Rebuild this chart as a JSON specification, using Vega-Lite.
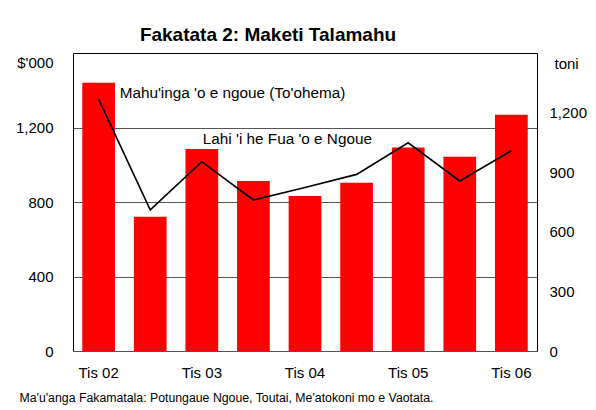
{
  "$schema": "https://vega.github.io/schema/vega-lite/v6.json",
  "width": 464,
  "height": 298,
  "autosize": {"type": "none"},
  "padding": {"left": 73, "top": 53, "right": 59, "bottom": 59},
  "background": "white",
  "config": {
    "font": "Liberation Sans",
    "view": {"stroke": "black", "strokeWidth": 1},
    "axis": {"labelFont": "Liberation Sans", "titleFont": "Liberation Sans", "labelColor": "black", "titleColor": "black"}
  },
  "title": {
    "text": "Fakatata 2: Maketi Talamahu",
    "fontSize": 19,
    "fontWeight": "bold",
    "font": "Liberation Sans",
    "anchor": "middle",
    "dx": -37,
    "offset": 8,
    "color": "black"
  },
  "layer": [
    {
      "layer": [
        {
          "data": {
            "values": [
              {"period": "Tis 02", "value": 1440},
              {"period": "Sun 03", "value": 721},
              {"period": "Tis 03", "value": 1085},
              {"period": "Sun 04", "value": 913},
              {"period": "Tis 04", "value": 832},
              {"period": "Sun 05", "value": 904},
              {"period": "Tis 05", "value": 1092},
              {"period": "Sun 06", "value": 1043},
              {"period": "Tis 06", "value": 1269}
            ]
          },
          "mark": {"type": "bar", "color": "#ff0000"},
          "encoding": {
            "x": {
              "field": "period",
              "type": "ordinal",
              "sort": null,
              "scale": {"paddingInner": 0.366, "paddingOuter": 0.18},
              "axis": {
                "labelAngle": 0,
                "labelFontSize": 15,
                "labelExpr": "substring(datum.label, 0, 3) == 'Tis' ? datum.label : ''",
                "ticks": false,
                "domain": false,
                "labelPadding": 14,
                "title": "Ma'u'anga Fakamatala: Potungaue Ngoue, Toutai, Me'atokoni mo e Vaotata.",
                "titleFontSize": 12.3,
                "titleFontWeight": "normal",
                "titleAlign": "left",
                "titleAnchor": "start",
                "titleX": -54,
                "titleY": 46,
                "titleBaseline": "middle"
              }
            },
            "y": {
              "field": "value",
              "type": "quantitative",
              "scale": {"domain": [0, 1600], "nice": false},
              "axis": {
                "values": [0, 400, 800, 1200],
                "format": ",d",
                "labelFontSize": 15,
                "ticks": false,
                "domain": false,
                "labelPadding": 20,
                "grid": true,
                "gridColor": "#555555",
                "gridWidth": 1,
                "title": "$'000",
                "titleAngle": 0,
                "titleFontSize": 15,
                "titleFontWeight": "normal",
                "titleAlign": "right",
                "titleBaseline": "middle",
                "titleX": -20,
                "titleY": 9
              }
            }
          }
        },
        {
          "data": {
            "values": [
              {"period": "Tis 02", "value": 1384, "label": "Mahu'inga 'o e ngoue (To'ohema)"}
            ]
          },
          "mark": {"type": "text", "align": "left", "baseline": "middle", "fontSize": 15.3, "dx": 21, "color": "black"},
          "encoding": {
            "x": {"field": "period", "type": "ordinal", "sort": null},
            "y": {"field": "value", "type": "quantitative"},
            "text": {"field": "label"}
          }
        },
        {
          "data": {
            "values": [
              {"period": "Tis 03", "value": 1137, "label": "Lahi 'i he Fua 'o e Ngoue"}
            ]
          },
          "mark": {"type": "text", "align": "left", "baseline": "middle", "fontSize": 15.3, "dx": 1, "color": "black"},
          "encoding": {
            "x": {"field": "period", "type": "ordinal", "sort": null},
            "y": {"field": "value", "type": "quantitative"},
            "text": {"field": "label"}
          }
        }
      ]
    },
    {
      "data": {
        "values": [
          {"period": "Tis 02", "tonnes": 1268},
          {"period": "Sun 03", "tonnes": 710},
          {"period": "Tis 03", "tonnes": 953},
          {"period": "Sun 04", "tonnes": 760},
          {"period": "Tis 04", "tonnes": 823},
          {"period": "Sun 05", "tonnes": 889},
          {"period": "Tis 05", "tonnes": 1048},
          {"period": "Sun 06", "tonnes": 856},
          {"period": "Tis 06", "tonnes": 1008}
        ]
      },
      "mark": {"type": "line", "color": "black", "strokeWidth": 1.6},
      "encoding": {
        "x": {"field": "period", "type": "ordinal", "sort": null},
        "y": {
          "field": "tonnes",
          "type": "quantitative",
          "scale": {"domain": [0, 1500], "nice": false},
          "axis": {
            "orient": "right",
            "values": [0, 300, 600, 900, 1200],
            "format": ",d",
            "labelFontSize": 15,
            "ticks": false,
            "domain": false,
            "grid": false,
            "labelPadding": 12,
            "title": "toni",
            "titleAngle": 0,
            "titleFontSize": 15,
            "titleFontWeight": "normal",
            "titleAlign": "left",
            "titleBaseline": "middle",
            "titleX": 17,
            "titleY": 10
          }
        }
      }
    }
  ],
  "resolve": {"scale": {"y": "independent"}}
}
